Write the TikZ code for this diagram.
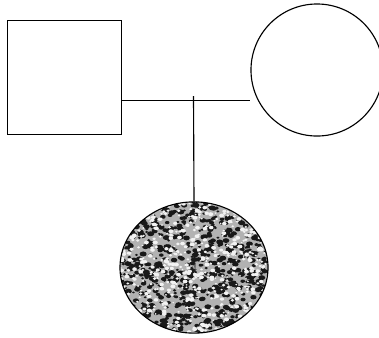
\documentclass[tikz,border=0pt]{standalone}
\usepackage{tikz}
\usetikzlibrary{shapes.geometric}

\begin{document}
\begin{tikzpicture}[
  x=0.025cm, y=-0.025cm,
  line width=0.8pt,
  male/.style={draw, rectangle, minimum width=2.84cm, minimum height=2.87cm, inner sep=0pt},
  female/.style={draw, circle, minimum size=3.3cm, inner sep=0pt},
  affected/.style={draw, ellipse, minimum width=3.7cm, minimum height=3.28cm, inner sep=0pt, fill=gray!60,
    path picture={
      \begin{scope}[shift={(path picture bounding box.center)}]
        \pgfmathsetseed{4217}
        \foreach \i in {1,...,900}{
          \pgfmathsetmacro\px{160*rnd-80}
          \pgfmathsetmacro\py{140*rnd-70}
          \pgfmathsetmacro\rr{0.7+1.1*rnd}
          \fill[black!80!gray] (\px,\py) ellipse[x radius=1.4*\rr pt, y radius=\rr pt];
        }
        \foreach \i in {1,...,700}{
          \pgfmathsetmacro\px{160*rnd-80}
          \pgfmathsetmacro\py{140*rnd-70}
          \pgfmathsetmacro\rr{0.5+0.9*rnd}
          \fill[white!90!gray] (\px,\py) ellipse[x radius=1.3*\rr pt, y radius=\rr pt];
        }
      \end{scope}
    }},
  line/.style={draw, line width=0.8pt}
]
\useasboundingbox (0,0) rectangle (379,337);

\node[male] (father) at (64.5,77.5) {};
\node[female] (mother) at (317,70) {};
\node[affected] (child) at (194,267.5) {\raisebox{-1.2ex}{\textcolor{black!85}{4}}};

\coordinate (join) at (193.5,100.7);
\coordinate (stub) at (193.5,96);

\draw[line] (father.east |- join) -- (join -| mother.west);
\draw[line] (stub) -- (child.north);
\end{tikzpicture}
\end{document}
